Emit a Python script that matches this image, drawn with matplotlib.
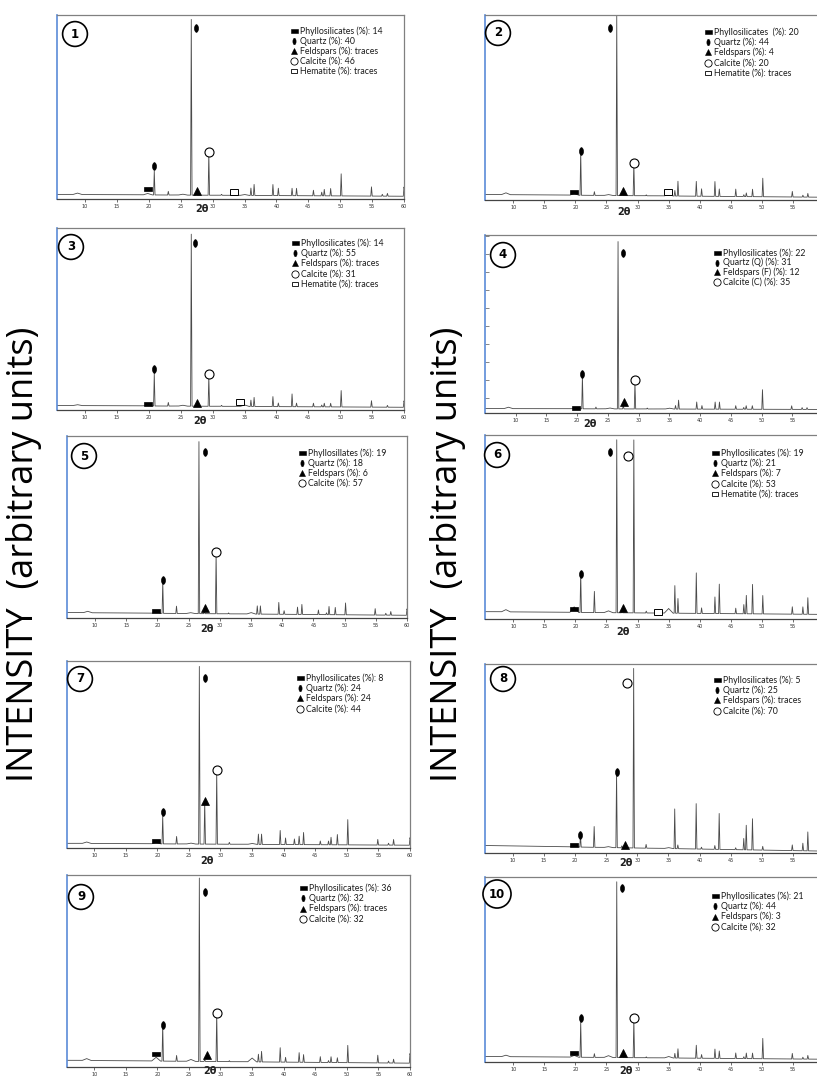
import matplotlib
matplotlib.use('Agg')
import matplotlib.pyplot as plt
import numpy as np
from matplotlib.markers import MarkerStyle
from matplotlib.transforms import Affine2D

W, H = 817, 1077
fig = plt.figure(figsize=(W / 100, H / 100), dpi=100)

# ---------------- data ----------------
PANEL_IDS = ['1', '2', '3', '4', '5', '6', '7', '8', '9', '10']

# sharp reflections, 2θ (degrees)
PEAK_POS = [20.85, 23.05, 26.65, 27.5, 29.4, 31.4, 36.0, 36.5, 39.45, 40.3, 41.7,
            42.45, 43.15, 45.8, 47.1, 47.5, 48.5, 50.15, 54.9, 56.6, 57.4, 60.0]

P1_H = [0.13, 0.02, 0.955, 0.01, 0.23, 0.005, 0.04, 0.06, 0.06, 0.04, 0.0, 0.04, 0.04, 0.03, 0.02, 0.035, 0.04, 0.12, 0.05, 0.01, 0.015, 0.05]
P2_H = [0.24, 0.02, 0.97, 0.02, 0.18, 0.005, 0.03, 0.08, 0.08, 0.04, 0.0, 0.08, 0.04, 0.04, 0.01, 0.02, 0.04, 0.10, 0.03, 0.01, 0.02, 0.04]
P3_H = [0.18, 0.02, 0.945, 0.01, 0.165, 0.005, 0.035, 0.05, 0.055, 0.02, 0.0, 0.07, 0.02, 0.02, 0.01, 0.02, 0.02, 0.09, 0.035, 0.0, 0.01, 0.035]
P4_H = [0.185, 0.01, 0.94, 0.02, 0.15, 0.005, 0.02, 0.05, 0.04, 0.02, 0.0, 0.04, 0.04, 0.02, 0.01, 0.02, 0.02, 0.11, 0.02, 0.01, 0.01, 0.02]
P5_H = [0.175, 0.04, 0.945, 0.015, 0.335, 0.005, 0.045, 0.045, 0.065, 0.02, 0.0, 0.04, 0.055, 0.025, 0.01, 0.045, 0.04, 0.065, 0.035, 0.01, 0.02, 0.035]
P6_H = [0.22, 0.115, 0.94, 0.02, 0.94, 0.01, 0.15, 0.08, 0.22, 0.03, 0.0, 0.09, 0.16, 0.03, 0.05, 0.10, 0.16, 0.10, 0.04, 0.04, 0.09, 0.04]
P7_H = [0.15, 0.04, 0.95, 0.23, 0.39, 0.01, 0.055, 0.055, 0.075, 0.035, 0.03, 0.045, 0.065, 0.02, 0.02, 0.04, 0.055, 0.135, 0.03, 0.01, 0.03, 0.04]
P8_H = [0.06, 0.11, 0.40, 0.01, 0.95, 0.02, 0.21, 0.02, 0.24, 0.01, 0.0, 0.02, 0.19, 0.01, 0.06, 0.13, 0.165, 0.02, 0.03, 0.04, 0.10, 0.03]
P9_H = [0.19, 0.03, 0.955, 0.01, 0.255, 0.005, 0.04, 0.055, 0.075, 0.025, 0.0, 0.05, 0.04, 0.03, 0.01, 0.03, 0.025, 0.09, 0.04, 0.01, 0.02, 0.05]
P10_H = [0.195, 0.02, 0.95, 0.02, 0.21, 0.005, 0.025, 0.05, 0.07, 0.02, 0.0, 0.05, 0.04, 0.03, 0.01, 0.03, 0.03, 0.11, 0.03, 0.01, 0.02, 0.03]
PEAK_H = [P1_H, P2_H, P3_H, P4_H, P5_H, P6_H, P7_H, P8_H, P9_H, P10_H]

# broad humps, 2θ
BROAD_POS = [8.8, 19.8, 25.3, 35.0]
BROAD_H = [[0.008, 0.008, 0.005, 0.005], [0.01, 0.01, 0.005, 0.008],
           [0.005, 0.008, 0.005, 0.008], [0.008, 0.008, 0.005, 0.005],
           [0.008, 0.01, 0.005, 0.008], [0.012, 0.03, 0.01, 0.025],
           [0.008, 0.008, 0.005, 0.005], [0.0, 0.008, 0.005, 0.005],
           [0.01, 0.02, 0.01, 0.02], [0.008, 0.01, 0.01, 0.008]]

# background level at 2θ = 5 and 2θ = 60
BG_START = [0.025, 0.03, 0.025, 0.025, 0.03, 0.04, 0.025, 0.04, 0.035, 0.03]
BG_END = [0.015, 0.015, 0.015, 0.02, 0.015, 0.025, 0.015, 0.01, 0.02, 0.015]

# identification symbols (mineral, 2θ, relative height)
P1_MARKS = [('phy', 19.8, 0.055), ('qtz', 20.85, 0.18), ('qtz', 27.4, 0.93), ('fel', 27.6, 0.045), ('cal', 29.4, 0.255), ('hem', 33.35, 0.04)]
P2_MARKS = [('phy', 19.8, 0.045), ('qtz', 20.85, 0.265), ('qtz', 25.5, 0.93), ('fel', 27.6, 0.05), ('cal', 29.4, 0.20), ('hem', 34.9, 0.045)]
P3_MARKS = [('phy', 19.8, 0.035), ('qtz', 20.85, 0.225), ('qtz', 27.3, 0.92), ('fel', 27.6, 0.04), ('cal', 29.4, 0.20), ('hem', 34.3, 0.045)]
P4_MARKS = [('phy', 19.8, 0.03), ('qtz', 20.85, 0.22), ('qtz', 27.4, 0.90), ('fel', 27.6, 0.06), ('cal', 29.4, 0.185)]
P5_MARKS = [('phy', 19.8, 0.04), ('qtz', 20.85, 0.21), ('qtz', 27.6, 0.91), ('fel', 27.6, 0.055), ('cal', 29.4, 0.36)]
P6_MARKS = [('phy', 19.8, 0.055), ('qtz', 20.85, 0.245), ('qtz', 25.5, 0.905), ('fel', 27.6, 0.06), ('cal', 28.5, 0.885), ('hem', 33.3, 0.04)]
P7_MARKS = [('phy', 19.8, 0.035), ('qtz', 20.85, 0.19), ('qtz', 27.5, 0.91), ('fel', 27.5, 0.25), ('cal', 29.4, 0.415)]
P8_MARKS = [('phy', 19.8, 0.04), ('qtz', 20.85, 0.095), ('qtz', 26.7, 0.43), ('fel', 28.0, 0.04), ('cal', 28.4, 0.90)]
P9_MARKS = [('phy', 19.8, 0.07), ('qtz', 20.85, 0.22), ('qtz', 27.6, 0.91), ('fel', 27.8, 0.06), ('cal', 29.4, 0.28)]
P10_MARKS = [('phy', 19.8, 0.05), ('qtz', 20.85, 0.24), ('qtz', 27.5, 0.94), ('fel', 27.6, 0.05), ('cal', 29.4, 0.24)]
MARKS = [P1_MARKS, P2_MARKS, P3_MARKS, P4_MARKS, P5_MARKS, P6_MARKS, P7_MARKS, P8_MARKS, P9_MARKS, P10_MARKS]

P1_LEG = [('phy', 'Phyllosilicates (%): 14'), ('qtz', 'Quartz (%): 40'), ('fel', 'Feldspars (%): traces'), ('cal', 'Calcite (%): 46'), ('hem', 'Hematite (%): traces')]
P2_LEG = [('phy', 'Phyllosilicates  (%): 20'), ('qtz', 'Quartz (%): 44'), ('fel', 'Feldspars (%): 4'), ('cal', 'Calcite (%): 20'), ('hem', 'Hematite (%): traces')]
P3_LEG = [('phy', 'Phyllosilicates (%): 14'), ('qtz', 'Quartz (%): 55'), ('fel', 'Feldspars (%): traces'), ('cal', 'Calcite (%): 31'), ('hem', 'Hematite (%): traces')]
P4_LEG = [('phy', 'Phyllosilicates (%): 22'), ('qtz', 'Quartz (Q) (%): 31'), ('fel', 'Feldspars (F) (%): 12'), ('cal', 'Calcite (C) (%): 35')]
P5_LEG = [('phy', 'Phyllosillates (%): 19'), ('qtz', 'Quartz (%): 18'), ('fel', 'Feldspars (%): 6'), ('cal', 'Calcite (%): 57')]
P6_LEG = [('phy', 'Phyllosilicates (%): 19'), ('qtz', 'Quartz (%): 21'), ('fel', 'Feldspars (%): 7'), ('cal', 'Calcite (%): 53'), ('hem', 'Hematite (%): traces')]
P7_LEG = [('phy', 'Phyllosilicates (%): 8'), ('qtz', 'Quartz (%): 24'), ('fel', 'Feldspars (%): 24'), ('cal', 'Calcite (%): 44')]
P8_LEG = [('phy', 'Phyllosilicates (%): 5'), ('qtz', 'Quartz (%): 25'), ('fel', 'Feldspars (%): traces'), ('cal', 'Calcite (%): 70')]
P9_LEG = [('phy', 'Phyllosilicates (%): 36'), ('qtz', 'Quartz (%): 32'), ('fel', 'Feldspars (%): traces'), ('cal', 'Calcite (%): 32')]
P10_LEG = [('phy', 'Phyllosilicates (%): 21'), ('qtz', 'Quartz (%): 44'), ('fel', 'Feldspars (%): 3'), ('cal', 'Calcite (%): 32')]
LEGENDS = [P1_LEG, P2_LEG, P3_LEG, P4_LEG, P5_LEG, P6_LEG, P7_LEG, P8_LEG, P9_LEG, P10_LEG]

X_TICKS = [10, 15, 20, 25, 30, 35, 40, 45, 50, 55, 60]
Y_LABEL = 'INTENSITY  (arbitrary units)'
X_LABEL = '2θ'

# ---------------- layout (pixels) ----------------
# left, top, right, bottom of each plot box, and its 2θ range
BOXES = [(57, 15, 404, 199), (485, 15, 824, 200), (57, 228, 404, 410), (485, 235, 823, 413),
         (67, 436, 407, 618), (485, 435, 824, 619), (67, 661, 410, 848), (485, 664, 824, 853),
         (67, 875, 410, 1067), (485, 877, 824, 1062)]
XMIN = [5.6, 5.45, 5.6, 5.0, 5.5, 5.45, 5.7, 5.5, 5.7, 5.45]
CIRCLES = [(75, 34), (498, 33), (71, 247), (503, 255), (84, 456), (497, 455), (80, 679), (503, 679), (81, 897), (497, 894)]
LEG_POS = [(294, 31), (708, 32), (295, 243), (717, 253), (302, 453), (715, 453), (300, 678), (717, 680), (303, 888), (715, 896)]
LEG_STEP = [10, 10.2, 10.2, 9.7, 10, 10.2, 10.2, 10.2, 10.3, 10.3]
XLAB_POS = [(202, 209), (624, 212), (200, 421), (590, 424), (207, 629), (623, 632), (207, 861), (626, 863), (210, 1071), (626, 1071)]


def fx(x):
    return x / W


def fy(y):
    return 1 - y / H


LINE_C = '#4a4a4a'
SPINE_BLUE = '#5b8bd8'
SPINE_GRAY = '#808080'

STYLE = {
    'phy': dict(marker=MarkerStyle('s', transform=Affine2D().scale(1.5, 0.75)), mfc='black', mec='black', ms=4.2, mew=0.5),
    'qtz': dict(marker=MarkerStyle('o', transform=Affine2D().scale(0.5, 1.0)), mfc='black', mec='black', ms=5.5, mew=0.5),
    'fel': dict(marker='^', mfc='black', mec='black', ms=6, mew=0.5),
    'cal': dict(marker='o', mfc='white', mec='black', ms=6.5, mew=0.8),
    'hem': dict(marker=MarkerStyle('s', transform=Affine2D().scale(1.35, 0.9)), mfc='white', mec='black', ms=4.4, mew=0.7),
}
LEG_STYLE = {
    'phy': dict(marker=MarkerStyle('s', transform=Affine2D().scale(1.4, 0.7)), mfc='black', mec='black', ms=3.6, mew=0.4),
    'qtz': dict(marker=MarkerStyle('o', transform=Affine2D().scale(0.5, 1.0)), mfc='black', mec='black', ms=4.6, mew=0.4),
    'fel': dict(marker='^', mfc='black', mec='black', ms=5, mew=0.4),
    'cal': dict(marker='o', mfc='white', mec='black', ms=5.2, mew=0.6),
    'hem': dict(marker=MarkerStyle('s', transform=Affine2D().scale(1.3, 0.9)), mfc='white', mec='black', ms=3.8, mew=0.6),
}

grid = np.arange(4.5, 61.0, 0.01)
SHARP_W = 0.11
BROAD_W = 0.7

for i in range(10):
    l, t, r, b = BOXES[i]
    ax = fig.add_axes([fx(l), fy(b), (r - l) / W, (b - t) / H])
    # build the pattern from the read peak list
    y = np.interp(grid, [5, 60], [BG_START[i], BG_END[i]])
    for p, h in zip(BROAD_POS, BROAD_H[i]):
        y = y + h * np.clip(1 - np.abs(grid - p) / BROAD_W, 0, None)
    for p, h in zip(PEAK_POS, PEAK_H[i]):
        y = y + h * np.clip(1 - np.abs(grid - p) / SHARP_W, 0, None)
    ax.plot(grid, y, color=LINE_C, lw=0.6)
    for kind, mx, my in MARKS[i]:
        ax.plot([mx], [my], ls='none', **STYLE[kind])
    ax.set_xlim(XMIN[i], 60)
    ax.set_ylim(0, 1)
    ticks = X_TICKS if r <= W else X_TICKS[:-1]
    ax.set_xticks(ticks)
    ax.set_xticklabels([str(v) for v in ticks])
    ax.tick_params(axis='x', length=2, width=0.5, pad=1.5, labelsize=3.5, colors='#333333')
    if i == 3:
        ax.set_yticks(np.arange(0.083, 1.0, 0.101))
        ax.tick_params(axis='y', direction='in', length=3, width=0.5, labelleft=False, colors='#555555')
    else:
        ax.set_yticks([])
    ax.spines['left'].set_color(SPINE_BLUE)
    ax.spines['left'].set_linewidth(1.2)
    for s in ('top', 'right'):
        ax.spines[s].set_color(SPINE_GRAY)
        ax.spines[s].set_linewidth(0.9)
    ax.spines['bottom'].set_color('#444444')
    ax.spines['bottom'].set_linewidth(0.9)

    # panel number
    cx, cy = CIRCLES[i]
    fig.text(fx(cx), fy(cy), PANEL_IDS[i], ha='center', va='center', fontsize=8.5,
             fontweight='bold', family='DejaVu Sans',
             bbox=dict(boxstyle='circle,pad=0.5', fc='white', ec='black', lw=1.2))

    # legend
    lx, ly = LEG_POS[i]
    for k, (kind, txt) in enumerate(LEGENDS[i]):
        yy = ly + k * LEG_STEP[i]
        fig.lines.append(plt.Line2D([fx(lx)], [fy(yy)], transform=fig.transFigure,
                                    ls='none', **LEG_STYLE[kind]))
        fig.text(fx(lx + 6), fy(yy), txt, ha='left', va='center', fontsize=6.3,
                 family='Lato', color='#1a1a1a')

    # axis label 2θ
    tx, ty = XLAB_POS[i]
    fig.text(fx(tx), fy(ty), X_LABEL, ha='center', va='center', fontsize=7,
             fontweight='bold', family='DejaVu Sans', color='#222222')

for x in (24, 448):
    fig.text(fx(x), fy(554), Y_LABEL, rotation=90, ha='center', va='center',
             fontsize=26, family='Open Sans', color='black')

fig.savefig('out.png', dpi=100)
